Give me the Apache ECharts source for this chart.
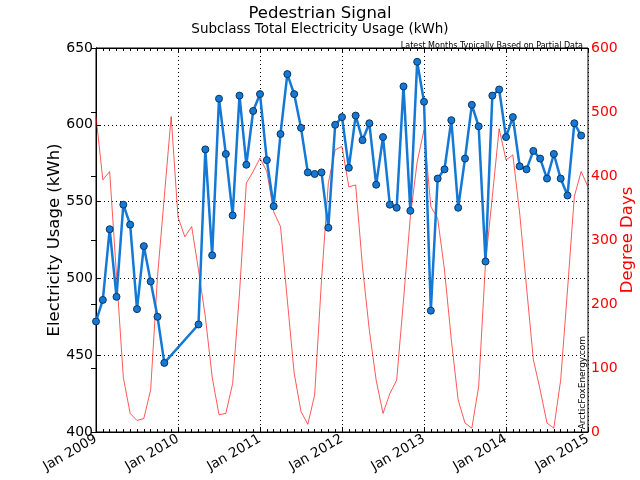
<!DOCTYPE html>
<html>
<head>
<meta charset="utf-8">
<script src="https://cdn.jsdelivr.net/npm/echarts@6/dist/echarts.min.js"></script>
<style>
html,body{margin:0;padding:0;background:#fff;}
#chart{width:640px;height:480px;}
</style>
</head>
<body>
<div id="chart"></div>
<script>
// Monthly electricity usage (kWh), Jan 2009 .. Dec 2014 (null = missing)
var usage2009 = [472, 486, 532, 488, 548, 535, 480, 521, 498, 475, 445, null];
var usage2010 = [null, null, null, 470, 584, 515, 617, 581, 541, 619, 574, 609];
var usage2011 = [620, 577, 547, 594, 633, 620, 598, 569, 568, 569, 533, 600];
var usage2012 = [605, 572, 606, 590, 601, 561, 592, 548, 546, 625, 544, 641];
var usage2013 = [615, 479, 565, 571, 603, 546, 578, 613, 599, 511, 619, 623];
var usage2014 = [592, 605, 573, 571, 583, 578, 565, 581, 565, 554, 601, 593];

// Monthly degree days, Jan 2009 .. Jan 2015
var dd2009 = [493, 394, 407, 245, 85, 29, 18, 21, 66, 243, 368, 493];
var dd2010 = [336, 305, 321, 253, 180, 86, 27, 29, 76, 217, 389, 407];
var dd2011 = [428, 407, 344, 321, 206, 92, 32, 12, 58, 237, 389, 441];
var dd2012 = [446, 383, 386, 258, 159, 81, 29, 60, 81, 206, 336, 422];
var dd2013 = [472, 352, 334, 253, 144, 50, 14, 6, 71, 264, 368, 474];
var dd2014 = [425, 433, 342, 227, 113, 66, 14, 6, 81, 222, 368, 407];
var dd2015 = [383];

var yearLabels = ['Jan 2009', 'Jan 2010', 'Jan 2011', 'Jan 2012', 'Jan 2013', 'Jan 2014', 'Jan 2015'];

var usage = [].concat(usage2009, usage2010, usage2011, usage2012, usage2013, usage2014);
var dd = [].concat(dd2009, dd2010, dd2011, dd2012, dd2013, dd2014, dd2015);

var usageData = usage.map(function (v, i) { return [i, v]; });
var ddData = dd.map(function (v, i) { return [i, v]; });

var FONT = 'DejaVu Sans';
var chart = echarts.init(document.getElementById('chart'), null, {renderer: 'canvas'});

var xBase = {
  type: 'value', min: 0, max: 72, interval: 12,
  axisLine: {show: true, onZero: false, lineStyle: {color: '#000', width: 1}},
  axisTick: {show: true, inside: true, length: 5, lineStyle: {color: '#000'}},
  minorTick: {show: true, splitNumber: 12, length: 3, lineStyle: {color: '#000'}},
  splitLine: {show: false}
};

chart.setOption({
  animation: false,
  backgroundColor: '#fff',
  textStyle: {fontFamily: FONT},
  title: [
    {text: 'Pedestrian Signal', left: 'center', top: 0,
     textStyle: {fontFamily: FONT, fontSize: 16.5, fontWeight: 'normal', color: '#000'}},
    {text: 'Subclass Total Electricity Usage (kWh)', left: 'center', top: 17,
     textStyle: {fontFamily: FONT, fontSize: 13.5, fontWeight: 'normal', color: '#000'}},
    {text: 'Latest Months Typically Based on Partial Data', right: 52, top: 37,
     textStyle: {fontFamily: FONT, fontSize: 8, fontWeight: 'normal', color: '#000'}}
  ],
  grid: {left: 96, right: 52, top: 48, bottom: 48, show: true, borderColor: '#000', borderWidth: 1,
         containLabel: false, outerBoundsMode: 'none'},
  xAxis: [
    Object.assign({}, xBase, {
      position: 'bottom',
      splitLine: {show: true, lineStyle: {color: '#000', type: [1, 3], width: 1}},
      axisLabel: {
        show: true, rotate: 30, fontSize: 13.5, color: '#000', fontFamily: FONT, margin: 6,
        formatter: function (v) { return yearLabels[Math.round(v / 12)]; }
      }
    }),
    Object.assign({}, xBase, {position: 'top', axisLabel: {show: false}})
  ],
  yAxis: [
    {
      type: 'value', min: 400, max: 650, interval: 50, position: 'left',
      name: 'Electricity Usage (kWh)', nameLocation: 'middle', nameGap: 33, nameRotate: 90,
      nameMoveOverlap: false,
      nameTextStyle: {fontFamily: FONT, fontSize: 16.5, color: '#000'},
      axisLine: {show: true, lineStyle: {color: '#000'}},
      axisTick: {show: true, inside: true, length: 5, lineStyle: {color: '#000'}},
      axisLabel: {fontSize: 14, color: '#000', fontFamily: FONT, margin: 3},
      splitLine: {show: true, lineStyle: {color: '#000', type: [1, 3], width: 1}}
    },
    {
      type: 'value', min: 0, max: 600, interval: 100, position: 'right',
      name: 'Degree Days', nameLocation: 'middle', nameGap: 31, nameRotate: 90,
      nameMoveOverlap: false,
      nameTextStyle: {fontFamily: FONT, fontSize: 16.5, color: '#ff0000'},
      axisLine: {show: true, lineStyle: {color: '#000'}},
      axisTick: {show: true, inside: true, length: 5, lineStyle: {color: '#000'}},
      axisLabel: {fontSize: 14, color: '#ff0000', fontFamily: FONT, margin: 3},
      splitLine: {show: false}
    }
  ],
  graphic: [
    {type: 'text', left: 578, top: 336, rotation: Math.PI / 2,
     style: {text: 'ArcticFoxEnergy.com', fontFamily: FONT, fontSize: 9, fill: '#000'},
     silent: true}
  ],
  series: [
    {
      name: 'Degree Days', type: 'line', xAxisIndex: 0, yAxisIndex: 1, data: ddData,
      symbol: 'none', lineStyle: {color: 'rgba(255,0,0,0.65)', width: 1}, z: 2
    },
    {
      name: 'Usage', type: 'line', xAxisIndex: 0, yAxisIndex: 0, data: usageData,
      connectNulls: true, symbol: 'circle', symbolSize: 7,
      itemStyle: {color: '#1479d6', borderColor: '#0b3560', borderWidth: 1},
      lineStyle: {color: '#1479d6', width: 2.5}, z: 3
    }
  ]
});
</script>
</body>
</html>
